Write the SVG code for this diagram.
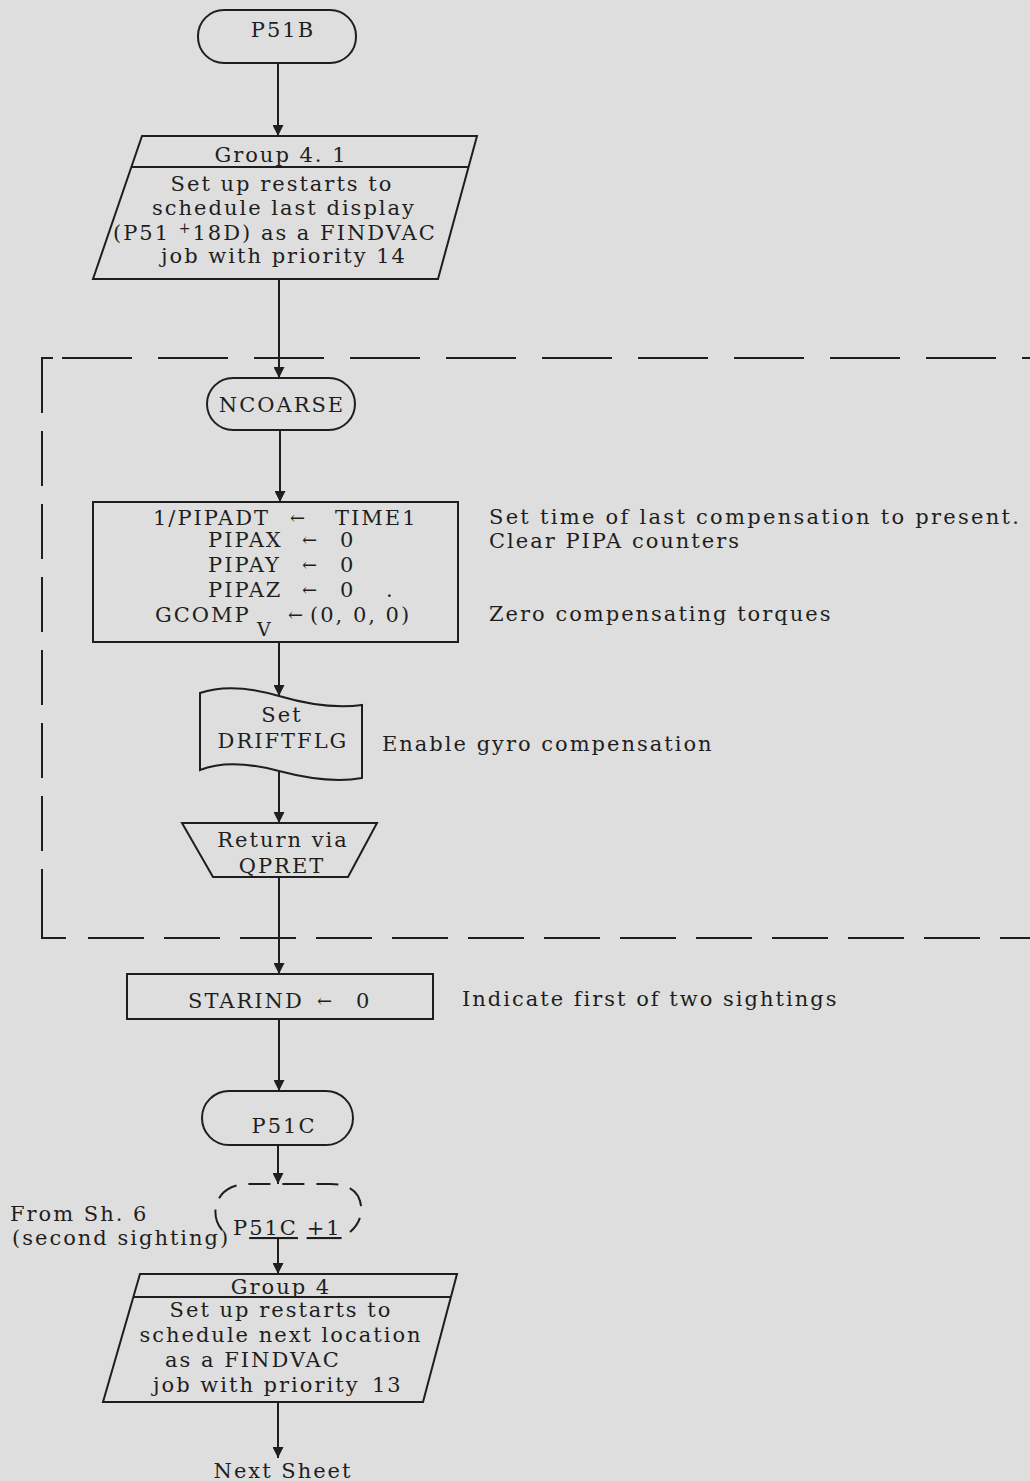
<svg xmlns="http://www.w3.org/2000/svg" width="1030" height="1481" viewBox="0 0 1030 1481">
<style>
.bg{fill:#dedede}
.s{fill:none;stroke:#1e1e1e;stroke-width:2}
.t{font-family:"DejaVu Serif","Liberation Serif",serif;font-size:21px;letter-spacing:2px;fill:#1e1e1e}
.m{text-anchor:middle}
.a{font-size:18px;letter-spacing:0}
.c{stroke:#1e1e1e;stroke-width:2;fill:none;marker-end:url(#ah)}
.d{stroke:#1e1e1e;stroke-width:2;fill:none}
</style>
<defs>
<marker id="ah" viewBox="0 0 10 10" refX="10" refY="5" markerWidth="12" markerHeight="11" markerUnits="userSpaceOnUse" orient="auto">
<path d="M0,0 L10,5 L0,10 z" fill="#1e1e1e"/>
</marker>
</defs>
<rect class="bg" x="0" y="0" width="1030" height="1481"/>

<g id="boundary">
<path class="d" d="M53,358 H42 V392"/>
<line class="d" x1="42" y1="358" x2="42" y2="905" stroke-dasharray="55 18"/>
<path class="d" d="M42,905 V938 H66"/>
<line class="d" x1="62" y1="358" x2="1030" y2="358" stroke-dasharray="70 26"/>
<line class="d" x1="88" y1="938" x2="1030" y2="938" stroke-dasharray="56 20"/>
</g>

<g id="connectors">
<line class="c" x1="278" y1="63" x2="278" y2="136"/>
<line class="c" x1="279" y1="279" x2="279" y2="378"/>
<line class="c" x1="280" y1="430" x2="280" y2="502"/>
<line class="c" x1="279" y1="642" x2="279" y2="696"/>
<line class="c" x1="279" y1="772" x2="279" y2="823"/>
<line class="c" x1="279" y1="877" x2="279" y2="974"/>
<line class="c" x1="279" y1="1019" x2="279" y2="1091"/>
<line class="c" x1="278" y1="1145" x2="278" y2="1184"/>
<line class="c" x1="278" y1="1238" x2="278" y2="1274"/>
<line class="c" x1="278" y1="1402" x2="278" y2="1458"/>
</g>

<g id="P51B">
<rect class="s" x="198" y="10" width="158" height="53" rx="26"/>
<text class="t m" x="283" y="37">P51B</text>
</g>

<g id="group41">
<polygon class="s" points="142,136 477,136 438,279 93,279"/>
<line class="s" x1="131" y1="167" x2="469" y2="167"/>
<text class="t m" x="281" y="162">Group 4. 1</text>
<text class="t m" x="282" y="191">Set up restarts to</text>
<text class="t m" x="284" y="215">schedule last display</text>
<text class="t" x="113" y="240">(P51 <tspan font-size="14" dy="-7">+</tspan><tspan dy="7">18D) as a FINDVAC</tspan></text>
<text class="t m" x="284" y="263">job with priority 14</text>
</g>

<g id="NCOARSE">
<rect class="s" x="207" y="378" width="148" height="52" rx="26"/>
<text class="t m" x="282" y="412">NCOARSE</text>
</g>

<g id="init">
<rect class="s" x="93" y="502" width="365" height="140"/>
<text class="t" y="525"><tspan x="153">1/PIPADT</tspan><tspan class="a" x="290" dy="-1">←</tspan><tspan x="335" dy="1">TIME1</tspan></text>
<text class="t" y="547"><tspan x="208">PIPAX</tspan><tspan class="a" x="302" dy="-1">←</tspan><tspan x="340" dy="1">0</tspan></text>
<text class="t" y="572"><tspan x="208">PIPAY</tspan><tspan class="a" x="302" dy="-1">←</tspan><tspan x="340" dy="1">0</tspan></text>
<text class="t" y="597"><tspan x="208">PIPAZ</tspan><tspan class="a" x="302" dy="-1">←</tspan><tspan x="340" dy="1">0</tspan><tspan x="386">.</tspan></text>
<text class="t" y="622"><tspan x="155">GCOMP</tspan><tspan x="257" dy="14" font-size="19">V</tspan><tspan class="a" x="288" dy="-15">←</tspan><tspan x="310" dy="1">(0, 0, 0)</tspan></text>
</g>
<g id="init-notes">
<text class="t" x="489" y="524" textLength="532" lengthAdjust="spacing">Set time of last compensation to present.</text>
<text class="t" x="489" y="548">Clear PIPA counters</text>
<text class="t" x="489" y="621">Zero compensating torques</text>
</g>

<g id="DRIFTFLG">
<path class="s" d="M200,693 C220,686 245,686 279,696 S340,708 362,705 V778 C340,782 313,780 279,771 C245,762 220,762 200,770 Z"/>
<text class="t m" x="282" y="722">Set</text>
<text class="t m" x="283" y="748">DRIFTFLG</text>
<text class="t" x="382" y="751">Enable gyro compensation</text>
</g>

<g id="QPRET">
<polygon class="s" points="182,823 377,823 348,877 213,877"/>
<text class="t m" x="283" y="847">Return via</text>
<text class="t m" x="282" y="873">QPRET</text>
</g>

<g id="STARIND">
<rect class="s" x="127" y="974" width="306" height="45"/>
<text class="t" y="1008"><tspan x="188">STARIND</tspan><tspan class="a" x="317" dy="-1">←</tspan><tspan x="356" dy="1">0</tspan></text>
<text class="t" x="462" y="1006">Indicate first of two sightings</text>
</g>

<g id="P51C">
<rect class="s" x="202" y="1091" width="151" height="54" rx="27"/>
<text class="t m" x="284" y="1133">P51C</text>
</g>

<g id="P51C1">
<path class="d" d="M222,1230 C212,1218 212,1196 232,1187 C240,1184 245,1184 255,1184 H330 C340,1184 352,1186 358,1196 C364,1208 362,1222 350,1232" stroke-dasharray="22 12"/>
<text class="t" x="233" y="1235">P<tspan text-decoration="underline">51C</tspan> <tspan text-decoration="underline">+1</tspan></text>
<text class="t" x="10" y="1221">From Sh. 6</text>
<text class="t" x="12" y="1245">(second sighting)</text>
</g>

<g id="group4">
<polygon class="s" points="140,1274 457,1274 423,1402 103,1402"/>
<line class="s" x1="134" y1="1297" x2="451" y2="1297"/>
<text class="t m" x="281" y="1294">Group 4</text>
<text class="t m" x="281" y="1317">Set up restarts to</text>
<text class="t m" x="281" y="1342">schedule next location</text>
<text class="t" x="165" y="1367">as a FINDVAC</text>
<text class="t" y="1392"><tspan x="153">job with priority</tspan><tspan x="372">13</tspan></text>
</g>

<g id="next">
<text class="t m" x="283" y="1478">Next Sheet</text>
</g>
</svg>
